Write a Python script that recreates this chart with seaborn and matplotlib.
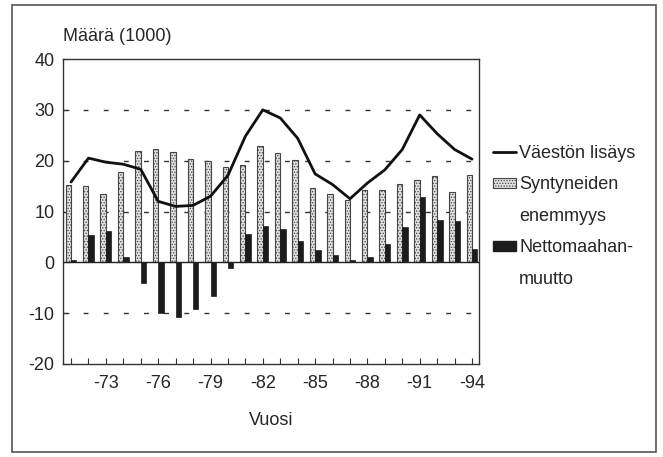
import matplotlib
matplotlib.use("Agg")
import matplotlib.pyplot as plt
from matplotlib import font_manager
from matplotlib.lines import Line2D
from matplotlib.patches import Patch, Rectangle
import seaborn as sns
import pandas as pd
import numpy as np

years = list(range(1971, 1995))
syntyneiden = [15.2, 15.0, 13.4, 17.8, 22.0, 22.3, 21.7, 20.4, 20.0, 18.7, 19.1, 22.8,
               21.6, 20.1, 14.6, 13.5, 12.2, 14.3, 14.2, 15.4, 16.1, 16.9, 13.8, 17.2]
netto = [0.5, 5.3, 6.1, 1.1, -4.0, -10.0, -10.8, -9.2, -6.6, -1.2, 5.5, 7.1,
         6.6, 4.1, 2.5, 1.5, 0.4, 1.0, 3.6, 6.9, 12.8, 8.3, 8.1, 2.7]
lisays = [15.8, 20.5, 19.7, 19.3, 18.3, 12.0, 11.0, 11.2, 13.0, 17.1, 24.8, 30.0,
          28.4, 24.4, 17.4, 15.3, 12.5, 15.6, 18.2, 22.2, 29.0, 25.3, 22.2, 20.3]
xtick_years = [1973, 1976, 1979, 1982, 1985, 1988, 1991, 1994]
xtick_labels = ["-73", "-76", "-79", "-82", "-85", "-88", "-91", "-94"]
yticks = [-20, -10, 0, 10, 20, 30, 40]
ytick_labels = ["-20", "-10", "0", "10", "20", "30", "40"]
series_names = ["Syntyneiden enemmyys", "Nettomaahanmuutto"]
legend_lines = ["Väestön lisäys", "Syntyneiden", "enemmyys", "Nettomaahan-", "muutto"]

sns.set_theme(style="white")
avail = {f.name for f in font_manager.fontManager.ttflist}
fam = "Liberation Sans Narrow" if "Liberation Sans Narrow" in avail else "Liberation Sans"
plt.rcParams["font.family"] = [fam, "DejaVu Sans"]
plt.rcParams["hatch.linewidth"] = 0.6

bars = pd.DataFrame({
    "year": years * 2,
    "value": syntyneiden + netto,
    "series": [series_names[0]] * len(years) + [series_names[1]] * len(years),
})
line_df = pd.DataFrame({"year": years, "value": lisays})

fig = plt.figure(figsize=(6.63, 4.57), dpi=100)
ax = fig.add_axes([63 / 663, 1 - 364 / 457, (479 - 63) / 663, (364 - 59) / 457])

light = "#e0e0e0"
dark = "#1c1c1c"
sns.barplot(data=bars, x="year", y="value", hue="series", hue_order=series_names,
            native_scale=True, width=0.62, palette=[light, dark], ax=ax,
            legend=False, saturation=1, gap=0)
n = len(years)
for i, p in enumerate(ax.patches):
    if i < n:
        p.set_hatch("......")
        p.set_edgecolor("#444444")
        p.set_linewidth(0.8)
    else:
        p.set_edgecolor(dark)
        p.set_linewidth(0.5)

for yv in [30, 20, 10, -10]:
    ax.axhline(yv, color="#333333", lw=1.0, ls=(0, (3.5, 11)), zorder=0.5)
ax.axhline(0, color="#222222", lw=1.0, zorder=3)

sns.lineplot(data=line_df, x="year", y="value", color="#111111", lw=2.0, ax=ax,
             zorder=4)

ax.set_xlim(1970.54, 1994.4)
ax.set_ylim(-20, 40)
ax.set_xticks(years, minor=True)
ax.set_xticks(xtick_years)
ax.set_xticklabels(xtick_labels, fontsize=13)
ax.set_yticks(yticks)
ax.set_yticklabels(ytick_labels, fontsize=13)
ax.tick_params(axis="x", which="both", direction="in", length=4, width=0.8,
               color="#333333", bottom=True, pad=8)
ax.tick_params(axis="y", which="both", direction="in", length=4, width=0.8,
               color="#333333", left=True, pad=6)
ax.set_xlabel("Vuosi", fontsize=13, labelpad=14)
ax.set_ylabel("")
for s in ax.spines.values():
    s.set_color("#333333")
    s.set_linewidth(1.0)

ax.text(0.0, 1.045, "Määrä (1000)", transform=ax.transAxes, fontsize=13,
        ha="left", va="bottom")

blank = Patch(facecolor="none", edgecolor="none")
handles = [
    Line2D([0], [0], color="#111111", lw=2.0),
    Patch(facecolor=light, edgecolor="#444444", hatch="......", lw=0.8),
    blank,
    Patch(facecolor=dark, edgecolor=dark),
    blank,
]
fig.legend(handles, legend_lines, loc="upper left",
           bbox_to_anchor=(493 / 663, 1 - 145 / 457), frameon=False,
           fontsize=13, handlelength=1.3, handleheight=0.5, handletextpad=0.15,
           labelspacing=0.8, borderaxespad=0, borderpad=0)

fig.patches.append(Rectangle((12 / 663, 5 / 457), (656 - 12) / 663, (452 - 5) / 457,
                             transform=fig.transFigure, fill=False,
                             edgecolor="#555555", lw=1.2))

fig.savefig("out.png", dpi=100)
